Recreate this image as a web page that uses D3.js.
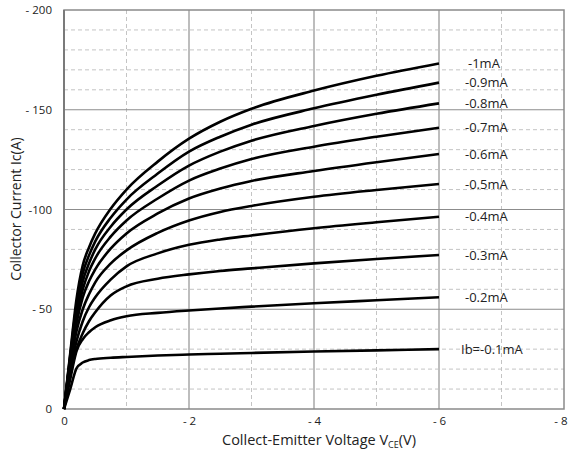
<!DOCTYPE html>
<html>
<head>
<meta charset="utf-8">
<script src="https://cdn.jsdelivr.net/npm/d3@7"></script>
<style>
  body { margin: 0; background: #fff; }
  text { font-family: "Open Sans", "DejaVu Sans", sans-serif; fill: #222; }
</style>
</head>
<body>
<div id="chart"></div>
<script>
(function (d3) {
  'use strict';

  // Collector-emitter voltage sample points (V)
  const vce = [0, -0.1, -0.2, -0.3, -0.4, -0.5, -0.75, -1, -1.5, -2, -2.5, -3, -4, -5, -6];

  // Base currents, read top to bottom
  const ibLabels = ['-1mA', '-0.9mA', '-0.8mA', '-0.7mA', '-0.6mA',
                    '-0.5mA', '-0.4mA', '-0.3mA', '-0.2mA', 'Ib=-0.1mA'];

  // Collector current magnitudes (A) for each base current, at the vce points
  const ic1000 = [0, 28, 55, 72, 81, 88, 100.5, 110, 124, 135.5, 144, 150.5, 159.6, 167, 173.2];
  const ic900  = [0, 27, 52, 68, 77, 84, 96, 105, 118, 129, 136.5, 142.5, 150.7, 157.5, 163.6];
  const ic800  = [0, 26, 49, 64, 73, 80, 91.5, 100, 112, 122, 129, 134.5, 141.9, 148, 153.2];
  const ic700  = [0, 25, 46, 60, 69, 75.5, 86.5, 94.5, 105.5, 114.5, 120.5, 125.3, 131.5, 136.5, 141];
  const ic600  = [0, 24, 43, 56, 64, 70, 80.5, 88, 98, 105.5, 110.5, 114.3, 119.3, 123.7, 127.8];
  const ic500  = [0, 22, 39, 50, 57.5, 63.5, 73, 79.5, 88.3, 94.5, 98.8, 101.8, 106.4, 109.8, 112.8];
  const ic400  = [0, 19, 34, 44, 51, 56, 65, 71.5, 78, 82.3, 85, 87, 90.6, 93.6, 96.4];
  const ic300  = [0, 17, 30, 38, 44, 48.5, 57, 61.5, 65.3, 67.5, 69.2, 70.5, 73, 75.2, 77.2];
  const ic200  = [0, 15, 29, 35, 38.5, 41, 44.5, 46.5, 48.2, 49.4, 50.4, 51.3, 53, 54.5, 56];
  const ic100  = [0, 10, 20.4, 23.3, 24.5, 25.1, 25.7, 26.1, 26.8, 27.3, 27.7, 28.1, 28.8, 29.4, 30];

  const series = [ic1000, ic900, ic800, ic700, ic600, ic500, ic400, ic300, ic200, ic100];

  const xTicks = [0, -2, -4, -6, -8];
  const xTickText = ['0', '- 2', '- 4', '- 6', '- 8'];
  const yTicks = [0, -50, -100, -150, -200];
  const yTickText = ['0', '- 50', '-100', '- 150', '- 200'];

  const width = 568, height = 453;
  const left = 64, right = 564, top = 10, bottom = 409;

  const svg = d3.select('#chart').append('svg')
      .attr('width', width)
      .attr('height', height);

  const x = d3.scaleLinear().domain([0, -8]).range([left, right]);
  const y = d3.scaleLinear().domain([0, -200]).range([bottom, top]);

  // minor grid
  const g = svg.append('g');
  g.selectAll('line.vminor').data(d3.range(-1, -8, -2)).enter()
    .append('line')
      .attr('x1', d => x(d)).attr('x2', d => x(d))
      .attr('y1', top).attr('y2', bottom)
      .attr('stroke', '#c4c4c4').attr('stroke-width', 1)
      .attr('stroke-dasharray', '4,3');
  g.selectAll('line.hminor').data(d3.range(-10, -200, -10).filter(v => v % 50 !== 0)).enter()
    .append('line')
      .attr('x1', left).attr('x2', right)
      .attr('y1', d => y(d)).attr('y2', d => y(d))
      .attr('stroke', '#c4c4c4').attr('stroke-width', 1)
      .attr('stroke-dasharray', '4,3');

  // major grid
  g.selectAll('line.vmajor').data([-2, -4, -6]).enter()
    .append('line')
      .attr('x1', d => x(d)).attr('x2', d => x(d))
      .attr('y1', top).attr('y2', bottom)
      .attr('stroke', '#bdbdbd').attr('stroke-width', 2);
  g.selectAll('line.hmajor').data([-50, -100, -150]).enter()
    .append('line')
      .attr('x1', left).attr('x2', right)
      .attr('y1', d => y(d)).attr('y2', d => y(d))
      .attr('stroke', '#8c8c8c').attr('stroke-width', 1);

  // plot border
  svg.append('rect')
      .attr('x', left).attr('y', top)
      .attr('width', right - left).attr('height', bottom - top)
      .attr('fill', 'none')
      .attr('stroke', '#8a8a8a').attr('stroke-width', 1.5);
  svg.append('line')
      .attr('x1', left).attr('x2', left).attr('y1', top).attr('y2', bottom)
      .attr('stroke', '#7a7a7a').attr('stroke-width', 2);

  // axes (labels only)
  const xAxis = d3.axisBottom(x).tickValues(xTicks)
      .tickFormat((d, i) => xTickText[i]).tickSize(0).tickPadding(8);
  const xg = svg.append('g').attr('transform', `translate(0,${bottom})`).call(xAxis);
  xg.select('.domain').remove();
  xg.selectAll('text').attr('font-size', 11.5).attr('fill', '#333')
      .style('font-family', '"Open Sans", sans-serif');
  // last label sits inside the window
  xg.selectAll('.tick').filter(d => d === -8).select('text')
      .attr('text-anchor', 'end').attr('x', 3);

  const yAxis = d3.axisLeft(y).tickValues(yTicks)
      .tickFormat((d, i) => yTickText[i]).tickSize(0).tickPadding(12);
  const yg = svg.append('g').attr('transform', `translate(${left},0)`).call(yAxis);
  yg.select('.domain').remove();
  yg.selectAll('text').attr('font-size', 11.5).attr('fill', '#333')
      .style('font-family', '"Open Sans", sans-serif');

  // curves
  const line = d3.line()
      .x((d, i) => x(vce[i]))
      .y(d => y(-d))
      .curve(d3.curveMonotoneX);

  svg.selectAll('path.curve').data(series).enter()
    .append('path')
      .attr('class', 'curve')
      .attr('d', line)
      .attr('fill', 'none')
      .attr('stroke', '#000')
      .attr('stroke-width', 2.6)
      .attr('stroke-linejoin', 'round');

  // end labels
  svg.selectAll('text.ib').data(series).enter()
    .append('text')
      .attr('class', 'ib')
      .attr('x', (d, i) => i === series.length - 1 ? x(-6) + 22 : (i === 0 ? x(-6) + 29 : x(-6) + 26))
      .attr('y', d => y(-d[d.length - 1]))
      .attr('dy', '0.35em')
      .attr('font-size', 13)
      .text((d, i) => ibLabels[i]);

  // axis titles
  const xt = svg.append('text')
      .attr('x', 319).attr('y', 445)
      .attr('text-anchor', 'middle')
      .attr('font-size', 14.5);
  xt.append('tspan').text('Collect-Emitter Voltage  V');
  xt.append('tspan').attr('font-size', 9).attr('dy', 3).text('CE');
  xt.append('tspan').attr('dy', -3).text('(V)');

  svg.append('text')
      .attr('transform', 'translate(21,209) rotate(-90)')
      .attr('text-anchor', 'middle')
      .attr('font-size', 14)
      .text('Collector Current  Ic(A)');
})(d3);
</script>
</body>
</html>
